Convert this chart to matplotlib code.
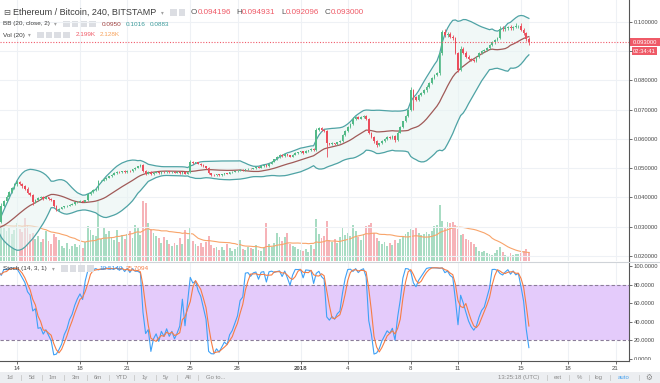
import numpy as np
import pandas as pd
import matplotlib
matplotlib.use("Agg")
import matplotlib.pyplot as plt
from matplotlib.patches import Rectangle
from matplotlib.transforms import Bbox, TransformedBbox

plt.rcParams['font.family'] = ['Liberation Sans', 'DejaVu Sans']

# ETH/BTC 4h candles, first candle 2017-12-09 12:00 UTC (the first ones sit left of the view)
first_bar = pd.Timestamp("2017-12-09 12:00")
first_open = 0.0299
close = [
    0.0296, 0.0301, 0.0298,                                  # Dec 9
    0.0294, 0.0289, 0.0292, 0.0297, 0.0300, 0.0296,          # Dec 10
    0.0293, 0.0288, 0.0285, 0.0290, 0.0294, 0.0291,          # Dec 11
    0.0295, 0.0298, 0.0302, 0.0305, 0.0308, 0.0315,          # Dec 12
    0.0372, 0.0388, 0.0402, 0.0418, 0.0432, 0.0445,          # Dec 13
    0.0454, 0.0446, 0.0438, 0.0430, 0.0415, 0.0410,          # Dec 14
    0.0385, 0.0392, 0.0398, 0.0402, 0.0396, 0.0400,          # Dec 15
    0.0395, 0.0390, 0.0372, 0.0358, 0.0362, 0.0366,          # Dec 16
    0.0370, 0.0372, 0.0375, 0.0378, 0.0383, 0.0386,          # Dec 17
    0.0388, 0.0385, 0.0390, 0.0412, 0.0418, 0.0425,          # Dec 18
    0.0430, 0.0455, 0.0458, 0.0462, 0.0468, 0.0472,          # Dec 19
    0.0478, 0.0485, 0.0488, 0.0486, 0.0490, 0.0488,          # Dec 20
    0.0492, 0.0490, 0.0496, 0.0502, 0.0506, 0.0510,          # Dec 21
    0.0490, 0.0482, 0.0488, 0.0480, 0.0485, 0.0487,          # Dec 22
    0.0484, 0.0488, 0.0486, 0.0489, 0.0486, 0.0488,          # Dec 23
    0.0485, 0.0487, 0.0483, 0.0486, 0.0482, 0.0486,          # Dec 24
    0.0522, 0.0519, 0.0520, 0.0515, 0.0512, 0.0506,          # Dec 25
    0.0500, 0.0483, 0.0478, 0.0476, 0.0479, 0.0477,          # Dec 26
    0.0480, 0.0483, 0.0481, 0.0486, 0.0488, 0.0490,          # Dec 27
    0.0492, 0.0495, 0.0493, 0.0497, 0.0499, 0.0498,          # Dec 28
    0.0500, 0.0504, 0.0502, 0.0507, 0.0510, 0.0508,          # Dec 29
    0.0516, 0.0522, 0.0530, 0.0538, 0.0545, 0.0542,          # Dec 30
    0.0548, 0.0544, 0.0540, 0.0546, 0.0552, 0.0555,          # Dec 31
    0.0558, 0.0553, 0.0559, 0.0562, 0.0566, 0.0562,          # Jan 1
    0.0630, 0.0636, 0.0630, 0.0627, 0.0585, 0.0582,          # Jan 2
    0.0586, 0.0583, 0.0589, 0.0592, 0.0612, 0.0628,          # Jan 3
    0.0640, 0.0652, 0.0668, 0.0676, 0.0670, 0.0674,          # Jan 4
    0.0678, 0.0670, 0.0622, 0.0608, 0.0592, 0.0580,          # Jan 5
    0.0585, 0.0594, 0.0600, 0.0606, 0.0603, 0.0609,          # Jan 6
    0.0595, 0.0622, 0.0642, 0.0660, 0.0678, 0.0699,          # Jan 7
    0.0767, 0.0742, 0.0735, 0.0750, 0.0758, 0.0766,          # Jan 8
    0.0778, 0.0792, 0.0808, 0.0818, 0.0824, 0.0893,          # Jan 9
    0.0967, 0.0955, 0.0960, 0.0950, 0.0945, 0.0893,          # Jan 10
    0.0836, 0.0908, 0.0895, 0.0882, 0.0874, 0.0870,          # Jan 11
    0.0868, 0.0880, 0.0894, 0.0900, 0.0905, 0.0912,          # Jan 12
    0.0921, 0.0930, 0.0938, 0.0945, 0.0977, 0.0975,          # Jan 13
    0.0979, 0.0983, 0.0978, 0.0983, 0.0985, 0.0987,          # Jan 14
    0.0974, 0.0962, 0.094196, 0.0930,                        # Jan 15
]
# wick lengths above / below the candle body, in units of 0.0001
upper_wick = [
    2, 2, 1,  2, 1, 2, 2, 2, 1,  2, 1, 2, 2, 2, 1,  2, 2, 2, 2, 3, 2,
    10, 4, 5, 4, 3, 5,  5, 4, 3, 4, 5, 3,   2, 3, 3, 3, 2, 3,   3, 2, 2, 2, 3, 2,
    2, 2, 3, 2, 2, 2,   2, 2, 2, 3, 4, 3,   2, 4, 3, 3, 2, 3,   3, 3, 2, 3, 2, 3,
    2, 3, 2, 3, 3, 4,   3, 4, 2, 3, 2, 2,   2, 2, 2, 2, 2, 2,   2, 2, 2, 2, 3, 2,
    6, 3, 3, 2, 2, 2,   2, 3, 2, 2, 2, 2,   2, 2, 2, 2, 2, 2,   2, 2, 2, 2, 2, 2,
    2, 2, 2, 2, 2, 3,   2, 2, 3, 3, 3, 3,   3, 2, 2, 2, 2, 2,   2, 2, 2, 2, 2, 2,
    8, 6, 4, 4, 3, 3,   3, 2, 2, 3, 4, 3,   4, 4, 8, 4, 3, 3,   3, 4, 3, 3, 3, 3,
    3, 3, 3, 3, 3, 3,   3, 4, 3, 3, 3, 4,   12, 5, 4, 4, 4, 4,  5, 4, 4, 4, 4, 6,
    6, 8, 6, 6, 5, 5,   5, 10, 6, 5, 5, 4,  4, 5, 4, 4, 4, 4,   4, 4, 4, 4, 10, 8,
    6, 5, 6, 5, 10, 4,  8, 5, 4, 7.35,
]
lower_wick = [
    1, 2, 2,  2, 2, 1, 2, 2, 2,  1, 2, 2, 1, 2, 2,  2, 1, 2, 2, 2, 2,
    2, 4, 3, 4, 3, 3,   4, 4, 5, 3, 4, 5,   12, 3, 3, 2, 4, 2,  2, 3, 4, 5, 3, 2,
    2, 3, 2, 2, 2, 2,   2, 2, 2, 2, 3, 2,   2, 3, 3, 2, 2, 2,   2, 2, 3, 2, 2, 3,
    3, 2, 2, 2, 2, 2,   4, 5, 3, 3, 2, 2,   2, 2, 2, 2, 2, 2,   2, 2, 3, 2, 3, 2,
    2, 3, 2, 2, 3, 2,   3, 4, 3, 3, 2, 2,   2, 2, 2, 2, 2, 2,   2, 2, 2, 2, 2, 2,
    2, 2, 2, 2, 2, 3,   3, 2, 2, 2, 2, 3,   2, 3, 3, 2, 2, 2,   2, 3, 2, 2, 2, 3,
    2, 4, 3, 3, 46, 3,  2, 3, 2, 2, 3, 3,   3, 3, 3, 3, 3, 3,   3, 4, 4, 4, 4, 7,
    5, 3, 3, 3, 3, 3,   4, 3, 3, 3, 3, 3,   3, 42, 6, 4, 3, 3,  4, 4, 4, 4, 4, 4,
    6, 6, 6, 6, 6, 4,   8, 5, 5, 4, 4, 4,   5, 4, 4, 4, 4, 4,   4, 4, 4, 4, 4, 5,
    5, 5, 6, 5, 5, 5,   5, 6, 6, 9.04,
]
volume = [
    7500, 8000, 7200,
    8500, 9000, 7800, 8200, 7900, 8400,
    9200, 8600, 8000, 7600, 8800, 8200,
    9000, 9500, 10000, 10500, 11000, 9500,
    8500, 9000, 7500, 8200, 6800, 7600,       # Dec 13
    9500, 8000, 7200, 10700, 9000, 6800,      # Dec 14
    7000, 5500, 6200, 4800, 5500, 7500,       # Dec 15
    5000, 4200, 6800, 6000, 5200, 3800,       # Dec 16
    3200, 4500, 3000, 3800, 4200, 3500,       # Dec 17
    4000, 3200, 4800, 8800, 7800, 6500,       # Dec 18
    6200, 15000, 5500, 8200, 6800, 7500,      # Dec 19
    6000, 5200, 7800, 4800, 6500, 5500,       # Dec 20
    6800, 7500, 5800, 9000, 8200, 6500,       # Dec 21
    15000, 14500, 9500, 8000, 7000, 6200,     # Dec 22
    5800, 4500, 6000, 5200, 4200, 3800,       # Dec 23
    4600, 3900, 5800, 4200, 7800, 5600,       # Dec 24
    8200, 5000, 4200, 3800, 4500, 3600,       # Dec 25
    4800, 6200, 4000, 3200, 3600, 2800,       # Dec 26
    3500, 2800, 4200, 3200, 2600, 3000,       # Dec 27
    3400, 5200, 3100, 2800, 3600, 3300,       # Dec 28
    3000, 4000, 2700, 2500, 3400, 9400,       # Dec 29
    4200, 3500, 4600, 7000, 6000, 5000,       # Dec 30
    6000, 7000, 4200, 3800, 3500, 2900,       # Dec 31
    2800, 2400, 3100, 2200, 4000, 3000,       # Jan 1
    10500, 6800, 5800, 6200, 10000, 5200,     # Jan 2
    4800, 5500, 4400, 6000, 8400, 6500,       # Jan 3
    7000, 6200, 9000, 7400, 6000, 5200,       # Jan 4
    6800, 8800, 9000, 9400, 7000, 5800,       # Jan 5
    5000, 4200, 4800, 3800, 4500, 4000,       # Jan 6
    5200, 4400, 5600, 6300, 6800, 7200,       # Jan 7
    8000, 7800, 8300, 7000, 6400, 6800,       # Jan 8
    7200, 6600, 7500, 8800, 9000, 14000,      # Jan 9
    10000, 8200, 9800, 9500, 9800, 9000,      # Jan 10
    8000, 6500, 6800, 5500, 5200, 4800,       # Jan 11
    4200, 3500, 2600, 2300, 2500, 2100,       # Jan 12
    1800, 1500, 2000, 2800, 3500, 2200,       # Jan 13
    1500, 1300, 1900, 1400, 1700, 1661,       # Jan 14
    2100, 2500, 3000, 2199,                   # Jan 15
]

df = pd.DataFrame({"close": close, "volume": volume,
                   "uw": upper_wick, "lw": lower_wick})
df["open"] = df["close"].shift(1).fillna(first_open)
df["high"] = df[["open", "close"]].max(axis=1) + df["uw"] * 1e-4
df["low"] = df[["open", "close"]].min(axis=1) - df["lw"] * 1e-4
t = first_bar + pd.to_timedelta(np.arange(len(df)) * 4, unit="h")
x = ((t - pd.Timestamp("2017-12-14")) / pd.Timedelta(days=1)).values

# indicators: BB(20, 2), Vol MA(20), Stoch(14) with 3-bar %D
mid = df["close"].rolling(20).mean()
sd = df["close"].rolling(20).std(ddof=0)
upper, lower = mid + 2 * sd, mid - 2 * sd
vol_ma = df["volume"].rolling(20, min_periods=1).mean()
ll = df["low"].rolling(14).min()
hh = df["high"].rolling(14).max()
k = 100 * (df["close"] - ll) / (hh - ll)
d = k.rolling(3).mean()

W, H = 660, 383
fig = plt.figure(figsize=(W / 100, H / 100), dpi=100)
fig.patch.set_facecolor("white")

def fx(px):
    return px / W

def fy(py):
    return 1 - py / H

axr = 629
ax = fig.add_axes([0, fy(261), fx(axr), fy(0) - fy(261)])
axs = fig.add_axes([0, fy(361), fx(axr), fy(262) - fy(361)])
xmin, xmax = -17 / 15.75, (axr - 17) / 15.75
grid_c = "#eef1f5"
day_ticks = [0, 4, 7, 11, 14, 18, 21, 25, 28, 32, 35, 38]
day_labels = ["14", "18", "21", "25", "28", "2018", "4", "8", "11", "15", "18", "21"]
lab_c = "#4a4a4a"
fs_axis = 4.2

# volume (twin axis underneath the candles)
axv = ax.twinx()
axv.set_ylim(0, 65000)
axv.axis("off")
ax.set_zorder(axv.get_zorder() + 1)
ax.patch.set_visible(False)
up = (df["close"] >= df["open"]).values
vcol = np.where(up, "#a8dcc3", "#f6b3b8")
axv.bar(x, df["volume"], width=0.125, color=vcol, linewidth=0)
axv.plot(x, vol_ma, color="#f8a46a", lw=0.8)
axv.set_xlim(xmin, xmax)

# main pane
for dt in day_ticks:
    ax.axvline(dt, color=grid_c, lw=0.8, zorder=0)
for p in np.arange(0.02, 0.101, 0.01):
    ax.axhline(p, color=grid_c, lw=0.8, zorder=0)
ax.fill_between(x, lower, upper, color="#e8f4f3", alpha=0.6, lw=0, zorder=1)
ax.plot(x, upper, color="#4fa3a5", lw=0.9, zorder=2)
ax.plot(x, lower, color="#4fa3a5", lw=0.9, zorder=2)
ax.plot(x, mid, color="#a05a58", lw=0.9, zorder=2)
ccol = np.where(up, "#53b987", "#eb4d5c")
ax.vlines(x, df["low"], df["high"], colors=ccol, lw=0.6, zorder=3)
body = (df["close"] - df["open"]).abs().clip(lower=0.00008)
ax.bar(x, body, bottom=df[["open", "close"]].min(axis=1), width=0.11,
       color=ccol, linewidth=0, zorder=4)
ax.axhline(close[-1], color="#f05a6a", lw=0.8, ls=(0, (1, 1.5)), zorder=5)
ax.set_xlim(xmin, xmax)
ax.set_ylim(0.01829, 0.10752)
ax.set_xticks([])
ax.yaxis.tick_right()
pticks = np.arange(0.02, 0.101, 0.01)
ax.set_yticks(pticks)
ax.set_yticklabels(["%.6f" % v if abs(v - 0.09) > 1e-9 else "" for v in pticks])
ax.tick_params(axis="y", length=2, width=0.6, color="#555555", labelsize=fs_axis,
               labelcolor=lab_c, pad=1.5)
for s in ["top", "left", "bottom"]:
    ax.spines[s].set_visible(False)
ax.spines["right"].set_color("#555555")
ax.spines["right"].set_linewidth(0.8)

# stochastic pane
for dt in day_ticks:
    axs.axvline(dt, color=grid_c, lw=0.8, zorder=0)
axs.axhspan(20, 80, color="#e4cbfb", lw=0, zorder=0.5)
axs.axhline(80, color="#8b7d99", lw=0.8, ls=(0, (3, 2)), zorder=1)
axs.axhline(20, color="#8b7d99", lw=0.8, ls=(0, (3, 2)), zorder=1)
axs.plot(x, k, color="#3ea1f7", lw=0.8, zorder=3)
axs.plot(x, d, color="#f67d45", lw=0.8, zorder=3)
axs.set_xlim(xmin, xmax)
axs.set_ylim(-2.2, 104.3)
axs.yaxis.tick_right()
axs.set_yticks([0, 20, 40, 60, 80, 100])
axs.set_yticklabels(["%.4f" % v for v in [0, 20, 40, 60, 80, 100]])
axs.tick_params(axis="y", length=2, width=0.6, color="#555555", labelsize=fs_axis,
                labelcolor=lab_c, pad=1.5)
# the 0.0000 label is half hidden under the time axis
zero_lab = axs.get_yticklabels()[0]
zero_lab.set_clip_box(TransformedBbox(Bbox([[0, fy(360)], [1, 1]]), fig.transFigure))
zero_lab.set_clip_on(True)
axs.set_xticks(day_ticks)
axs.set_xticklabels(day_labels)
axs.tick_params(axis="x", length=2, width=0.6, color="#555555", labelsize=4.4,
                labelcolor=lab_c, pad=1.5)
for lab in axs.get_xticklabels():
    if lab.get_text() == "2018":
        lab.set_fontweight("bold")
for s in ["top", "left"]:
    axs.spines[s].set_visible(False)
for s in ["right", "bottom"]:
    axs.spines[s].set_color("#555555")
    axs.spines[s].set_linewidth(0.8)

# pane separator
fig.add_artist(plt.Line2D([0, 1], [fy(261.5), fy(261.5)], color="#cfd3d8", lw=0.8))

# right side last price / countdown labels
for py, x0, w, s in [(42, 629.5, 30.5, "0.093000"), (51.3, 632, 25, "02:34:41")]:
    fig.add_artist(Rectangle((fx(x0), fy(py + 3.8)), fx(w), 7.6 / H,
                             color="#ef5a67", lw=0))
    fig.text(fx(x0 + w / 2), fy(py), s, color="white", fontsize=fs_axis,
             ha="center", va="center")

# header legends
def icons(x0, py, n=4):
    for i in range(n):
        fig.add_artist(Rectangle((fx(x0 + i * 8.6), fy(py + 3.3)), fx(6.8), 6.6 / H,
                                 color="#dcdee3", lw=0))

def arrow(px, py):
    fig.text(fx(px), fy(py), "▾", fontsize=4, color="#a0a0a0", va="center",
             family="DejaVu Sans")

fs_leg = 4.6
fig.text(fx(3), fy(12.3), "⊟", fontsize=6, color="#555555", va="center",
         family="DejaVu Sans")
fig.text(fx(13), fy(12.3), "Ethereum / Bitcoin, 240, BITSTAMP", fontsize=6.5,
         color="#3c3c3c", va="center")
arrow(160.5, 12.3)
icons(170, 12.3, 2)
for lt, val, px, lw_ in [("O", "0.094196", 191, 6.3), ("H", "0.094931", 236, 5.9),
                         ("L", "0.092096", 281, 4.6), ("C", "0.093000", 325, 5.9)]:
    fig.text(fx(px), fy(12.3), lt, fontsize=5.8, color="#555555", va="center")
    fig.text(fx(px + lw_), fy(12.3), val, fontsize=5.8, color="#ef5a67", va="center")

fig.text(fx(3), fy(24), "BB (20, close, 2)", fontsize=fs_leg, color="#3c3c3c", va="center")
arrow(54, 24)
icons(63, 24)
fig.text(fx(102), fy(24), "0.0950", fontsize=fs_leg, color="#a0413f", va="center")
fig.text(fx(126), fy(24), "0.1016", fontsize=fs_leg, color="#3b9a9a", va="center")
fig.text(fx(150), fy(24), "0.0883", fontsize=fs_leg, color="#3b9a9a", va="center")

fig.text(fx(3), fy(35), "Vol (20)", fontsize=fs_leg, color="#3c3c3c", va="center")
arrow(28, 35)
icons(37, 35)
fig.text(fx(76), fy(35), "2.199K", fontsize=fs_leg, color="#ef5a67", va="center")
fig.text(fx(100), fy(35), "2.128K", fontsize=fs_leg, color="#f7a35c", va="center")

fig.text(fx(3), fy(268.5), "Stoch (14, 3, 1)", fontsize=fs_leg, color="#3c3c3c", va="center")
arrow(51.5, 268.5)
icons(61, 268.5)
fig.text(fx(99), fy(268.5), "10.5140", fontsize=fs_leg, color="#2e8fe8", va="center")
fig.text(fx(126), fy(268.5), "35.7094", fontsize=fs_leg, color="#f67d45", va="center")

# bottom toolbar
fig.add_artist(Rectangle((0, 0), 1, 11 / H, color="#eceef1", lw=0))
left_items = [("1d", 10), ("5d", 32), ("1m", 53), ("3m", 76), ("6m", 98), ("YTD", 122),
              ("1y", 145), ("5y", 166), ("All", 188), ("Go to...", 216)]
for s, px in left_items:
    fig.text(fx(px), fy(377.5), s, fontsize=4.3, color="#8a8a8a", ha="center", va="center")
for px in [21, 42, 64, 87, 109, 134, 156, 177, 198]:
    fig.add_artist(plt.Line2D([fx(px), fx(px)], [fy(380), fy(375)], color="#c8c8c8", lw=0.6))
right_items = [("13:25:18 (UTC)", 519, "#8a8a8a"), ("ext", 558, "#8a8a8a"),
               ("%", 579, "#8a8a8a"), ("log", 599, "#8a8a8a"), ("auto", 624, "#4aa3f0")]
for s, px, c in right_items:
    fig.text(fx(px), fy(377.5), s, fontsize=4.3, color=c, ha="center", va="center")
for px in [547, 569, 589, 610, 639]:
    fig.add_artist(plt.Line2D([fx(px), fx(px)], [fy(380), fy(375)], color="#c8c8c8", lw=0.6))
fig.text(fx(649), fy(377.5), "⚙", fontsize=5.5, color="#8a8a8a", ha="center", va="center",
         family="DejaVu Sans")

fig.savefig("out.png", dpi=100, facecolor="white")
